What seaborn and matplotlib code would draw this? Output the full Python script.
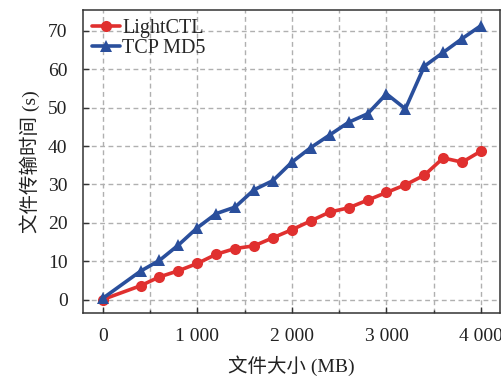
import numpy as np
import pandas as pd
import matplotlib
matplotlib.use("Agg")
import matplotlib.pyplot as plt
import seaborn as sns
from matplotlib.ticker import MultipleLocator, FuncFormatter

sizes = [0, 400, 600, 800, 1000, 1200, 1400, 1600, 1800, 2000, 2200, 2400,
         2600, 2800, 3000, 3200, 3400, 3600, 3800, 4000]
lightctl = [0.0, 3.6, 5.9, 7.5, 9.4, 11.8, 13.3, 14.0, 16.1, 18.2, 20.5, 22.8,
            23.9, 25.9, 27.9, 29.9, 32.4, 36.9, 35.8, 38.7]
tcpmd5 = [0.3, 7.4, 10.2, 14.2, 18.7, 22.4, 24.1, 28.6, 31.0, 35.8, 39.6, 42.9,
          46.2, 48.4, 53.6, 49.7, 60.8, 64.4, 68.0, 71.4]
series_names = ["LightCTL", "TCP MD5"]

df = pd.DataFrame({
    "size": sizes * 2,
    "time": lightctl + tcpmd5,
    "method": [series_names[0]] * len(sizes) + [series_names[1]] * len(sizes),
})

sns.set_theme(style="ticks")
plt.rcParams["font.family"] = ["Liberation Serif", "Noto Sans CJK SC"]

fig = plt.figure(figsize=(5.02, 3.78), dpi=100)
ax = fig.add_axes([0.165, 0.172, 0.831, 0.802])

palette = {"LightCTL": "#e0302f", "TCP MD5": "#2a4f9c"}
markers = {"LightCTL": "o", "TCP MD5": "^"}
sns.lineplot(data=df, x="size", y="time", hue="method", style="method",
             palette=palette, markers=markers, dashes=False, linewidth=2.6,
             markersize=8, markeredgewidth=0, ax=ax)

ax.set_xlim(-210, 4200)
ax.set_ylim(-3.5, 75.5)
ax.xaxis.set_major_locator(MultipleLocator(1000))
ax.xaxis.set_minor_locator(MultipleLocator(500))
ax.yaxis.set_major_locator(MultipleLocator(10))
ax.xaxis.set_major_formatter(FuncFormatter(lambda v, p: f"{int(v):,}".replace(",", " ")))
ax.grid(True, which="both", axis="x", linestyle=(0, (3.5, 2.5)), color="#b0b0b0", linewidth=1.0)
ax.grid(True, which="major", axis="y", linestyle=(0, (3.5, 2.5)), color="#b0b0b0", linewidth=1.0)
ax.tick_params(axis="both", which="major", direction="in", length=4, width=1,
               labelsize=14, colors="#333333", labelcolor="#222222", pad=11)
ax.tick_params(axis="x", which="minor", direction="in", length=2.5, width=1, colors="#333333")
for s in ax.spines.values():
    s.set_color("#333333")
    s.set_linewidth(1.1)

ax.set_xlabel("文件大小 (MB)", fontsize=14, color="#222222", labelpad=7,
              family=["Liberation Serif", "Noto Sans CJK SC"])
ax.set_ylabel("文件传输时间 (s)", fontsize=14, color="#222222", labelpad=6,
              family=["Liberation Serif", "Noto Sans CJK SC"])

leg = ax.legend(loc="upper left", frameon=False, fontsize=14.5, handlelength=1.4,
                handletextpad=0.1, borderaxespad=0.15, labelspacing=0.05,
                borderpad=0.3)

fig.savefig("out.png", dpi=100)
